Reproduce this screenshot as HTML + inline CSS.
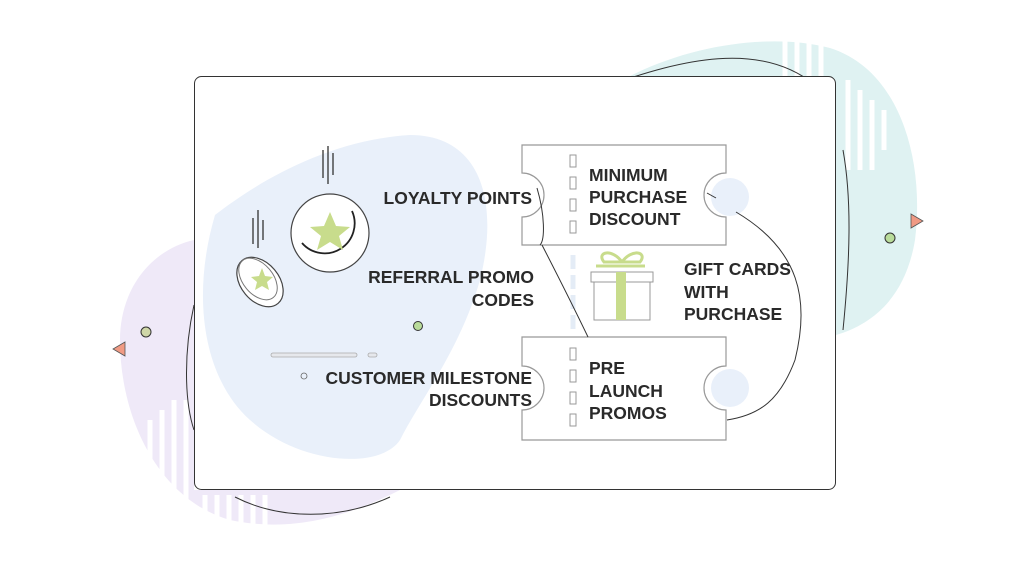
<!DOCTYPE html>
<html><head><meta charset="utf-8"><style>
html,body{margin:0;padding:0;background:#fff;width:1024px;height:576px;overflow:hidden}
svg{display:block}
text{font-family:"Liberation Sans",sans-serif;font-weight:bold;font-size:17.5px;fill:#2a2a2a}
</style></head><body>
<svg width="1024" height="576" viewBox="0 0 1024 576" xmlns="http://www.w3.org/2000/svg">
<!-- teal blob -->
<path d="M612 86 C680 45 770 32 830 48 C900 70 925 160 915 240 C905 300 870 325 836 335 L836 86 Z" fill="#dff2f2"/>
<g stroke="#fff" stroke-width="5">
<line x1="785" y1="40" x2="785" y2="90"/><line x1="797" y1="40" x2="797" y2="90"/><line x1="809" y1="40" x2="809" y2="90"/><line x1="821" y1="44" x2="821" y2="90"/>
<line x1="848" y1="80" x2="848" y2="170"/><line x1="860" y1="90" x2="860" y2="170"/><line x1="872" y1="100" x2="872" y2="170"/><line x1="884" y1="110" x2="884" y2="150"/>
</g>
<path d="M610 85 C680 60 760 40 815 85" fill="none" stroke="#333" stroke-width="1"/>
<path d="M843 150 C852 200 850 260 843 330" fill="none" stroke="#333" stroke-width="1"/>
<circle cx="890" cy="238" r="5" fill="#b9dc9a" stroke="#333" stroke-width="1"/>
<path d="M911 214 L923 221 L911 228 Z" fill="#f09a84" stroke="#555" stroke-width="0.8"/>
<!-- purple blob -->
<path d="M194 240 C150 250 120 290 120 340 C120 420 160 500 230 520 C300 535 360 510 400 490 L194 490 Z" fill="#efe9f8"/>
<g stroke="#fff" stroke-width="5">
<line x1="150" y1="420" x2="150" y2="470"/><line x1="162" y1="410" x2="162" y2="480"/><line x1="174" y1="400" x2="174" y2="490"/><line x1="186" y1="400" x2="186" y2="500"/>
<line x1="205" y1="495" x2="205" y2="520"/><line x1="217" y1="495" x2="217" y2="522"/><line x1="229" y1="495" x2="229" y2="525"/><line x1="241" y1="495" x2="241" y2="525"/><line x1="253" y1="495" x2="253" y2="525"/><line x1="265" y1="495" x2="265" y2="525"/>
</g>
<path d="M194 305 C184 350 184 400 194 430" fill="none" stroke="#333" stroke-width="1"/>
<path d="M235 497 C280 520 340 520 390 497" fill="none" stroke="#333" stroke-width="1"/>
<circle cx="146" cy="332" r="5" fill="#cfd7a8" stroke="#333" stroke-width="1"/>
<path d="M125 342 L113 349 L125 356 Z" fill="#f09a84" stroke="#555" stroke-width="0.8"/>
<!-- card -->
<rect x="194.5" y="76.5" width="641" height="413" rx="7" fill="#fff" stroke="#333" stroke-width="1"/>
<!-- light blue blob -->
<path d="M215 215 C260 180 330 140 410 135 C480 135 500 200 480 280 C460 350 420 400 400 440 C380 470 300 465 250 420 C205 380 190 300 215 215 Z" fill="#e9f0fa"/>
<!-- coins -->
<g stroke="#333" stroke-width="1.3" fill="none">
<line x1="323" y1="150" x2="323" y2="178"/><line x1="328" y1="146" x2="328" y2="184"/><line x1="333" y1="153" x2="333" y2="175"/>
<line x1="253" y1="218" x2="253" y2="244"/><line x1="258" y1="210" x2="258" y2="248"/><line x1="263" y1="220" x2="263" y2="240"/>
</g>
<circle cx="330" cy="233" r="39" fill="#fff" stroke="#444" stroke-width="1.2"/>
<path d="M302 243 A30 30 0 0 0 352 211" fill="none" stroke="#222" stroke-width="1.8"/>
<path d="M330 212 L336 226 L350 227 L339 236 L343 250 L330 242 L317 250 L321 236 L310 227 L324 226 Z" fill="#c8dc8c"/>
<ellipse cx="260" cy="282" rx="19" ry="28" transform="rotate(-40 260 282)" fill="#fff" stroke="#444" stroke-width="1.2"/>
<ellipse cx="258" cy="279" rx="15" ry="24" transform="rotate(-40 258 279)" fill="none" stroke="#777" stroke-width="1"/>
<path d="M262 268 L265 276 L273 277 L267 282 L269 290 L262 286 L255 290 L257 282 L251 277 L259 276 Z" fill="#c8dc8c"/>
<rect x="271" y="353" width="86" height="4" rx="2" fill="#e6e8ec" stroke="#aaa" stroke-width="0.8"/>
<rect x="368" y="353" width="9" height="4" rx="2" fill="#e6e8ec" stroke="#aaa" stroke-width="0.8"/>
<circle cx="304" cy="376" r="3" fill="none" stroke="#666" stroke-width="0.8"/>
<circle cx="418" cy="326" r="4.5" fill="#b9dc9a" stroke="#333" stroke-width="1"/>
<!-- tickets -->
<g fill="#fff" stroke="#999" stroke-width="1.2">
<path d="M522 145 H726 V173 A22 22 0 0 0 726 217 V245 H522 V217 A22 22 0 0 0 522 173 Z"/>
<path d="M522 337 H726 V366 A22 22 0 0 0 726 410 V440 H522 V410 A22 22 0 0 0 522 366 Z"/>
</g>
<circle cx="730" cy="197" r="19" fill="#e9f0fa"/>
<circle cx="730" cy="388" r="19" fill="#e9f0fa"/>
<g fill="#fff" stroke="#999" stroke-width="1">
<rect x="570" y="155" width="6" height="12"/><rect x="570" y="177" width="6" height="12"/><rect x="570" y="199" width="6" height="12"/><rect x="570" y="221" width="6" height="12"/>
<rect x="570" y="348" width="6" height="12"/><rect x="570" y="370" width="6" height="12"/><rect x="570" y="392" width="6" height="12"/><rect x="570" y="414" width="6" height="12"/>
</g>
<line x1="573" y1="255" x2="573" y2="330" stroke="#e4ecf6" stroke-width="5" stroke-dasharray="14 6"/>
<g fill="none" stroke="#333" stroke-width="1">
<path d="M537 188 C545 215 545 240 540 245"/>
<path d="M542 245 C560 280 575 310 588 337"/>
<path d="M707 193 L716 198"/>
<path d="M736 212 C800 250 810 300 795 360 C780 400 760 415 727 420"/>
</g>
<!-- gift -->
<path d="M622 262 C612 248 596 252 604 262 Z M622 262 C632 248 648 252 640 262 Z" fill="none" stroke="#c8dc8c" stroke-width="3"/>
<path d="M596 266 L645 266" stroke="#c8dc8c" stroke-width="3"/>
<rect x="591" y="272" width="62" height="10" fill="#fff" stroke="#999" stroke-width="1"/>
<rect x="594" y="282" width="56" height="38" fill="#fff" stroke="#999" stroke-width="1"/>
<rect x="616" y="272" width="10" height="48" fill="#c8dc8c"/>
<!-- texts -->
<text x="532" y="204" text-anchor="end">LOYALTY POINTS</text>
<text x="534" y="283" text-anchor="end">REFERRAL PROMO</text>
<text x="534" y="306" text-anchor="end">CODES</text>
<text x="532" y="384" text-anchor="end">CUSTOMER MILESTONE</text>
<text x="532" y="406" text-anchor="end">DISCOUNTS</text>
<text x="589" y="181">MINIMUM</text>
<text x="589" y="203">PURCHASE</text>
<text x="589" y="225">DISCOUNT</text>
<text x="684" y="275">GIFT CARDS</text>
<text x="684" y="298">WITH</text>
<text x="684" y="320">PURCHASE</text>
<text x="589" y="374">PRE</text>
<text x="589" y="397">LAUNCH</text>
<text x="589" y="419">PROMOS</text>
</svg>
</body></html>
